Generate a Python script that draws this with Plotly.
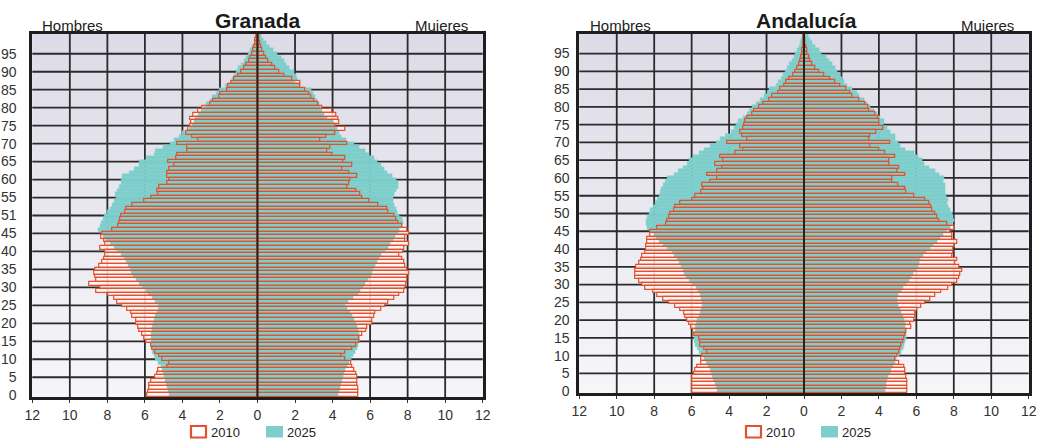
import plotly.graph_objects as go

ages = list(range(101))

# ---------------- Granada ----------------
gr_hombres_2010 = [5.86, 5.82, 5.78, 5.77, 5.68, 5.45, 5.35, 5.30, 4.80, 4.70,
                   5.06, 5.24, 5.42, 5.63, 5.68, 5.90, 6.05, 6.13, 6.30, 6.34,
                   6.48, 6.48, 6.66, 6.75, 6.93, 7.23, 7.46, 7.64, 7.94, 8.60,
                   8.40, 8.97, 8.60, 8.65, 8.70, 8.65, 8.44, 8.26, 8.17, 8.12,
                   8.12, 8.40, 8.12, 8.17, 8.30, 8.26, 7.76, 7.42, 7.35, 7.30,
                   7.28, 7.05, 7.00, 6.66, 6.04, 5.68, 5.28, 5.33, 5.24, 4.80,
                   4.70, 4.80, 4.80, 4.70, 4.44, 4.74, 4.35, 4.26, 3.73, 3.73,
                   4.26, 3.14, 3.50, 3.77, 3.68, 3.60, 3.55, 3.60, 3.41, 3.14,
                   2.93, 2.54, 2.36, 2.04, 2.00, 1.63, 1.55, 1.38, 1.24, 1.00,
                   0.89, 0.71, 0.59, 0.44, 0.36, 0.27, 0.23, 0.18, 0.14, 0.10,
                   0.06]
gr_hombres_2025 = [4.70, 4.74, 4.80, 4.85, 4.90, 4.97, 5.03, 5.08, 5.15, 5.30,
                   5.45, 5.52, 5.60, 5.66, 5.68, 5.68, 5.67, 5.64, 5.62, 5.60,
                   5.56, 5.50, 5.42, 5.33, 5.28, 5.30, 5.42, 5.58, 5.80, 5.95,
                   6.13, 6.28, 6.45, 6.60, 6.70, 6.80, 6.90, 7.00, 7.10, 7.25,
                   7.45, 7.65, 7.85, 8.05, 8.20, 8.35, 8.47, 8.38, 8.30, 8.22,
                   8.15, 8.02, 7.87, 7.72, 7.64, 7.51, 7.58, 7.46, 7.34, 7.28,
                   7.28, 7.23, 6.84, 6.57, 6.30, 6.30, 5.95, 5.50, 5.42, 5.03,
                   4.67, 4.44, 4.17, 4.03, 3.64, 3.46, 3.37, 3.29, 3.14, 3.02,
                   2.84, 2.75, 2.54, 2.40, 2.22, 2.04, 1.69, 1.42, 1.33, 1.24,
                   1.15, 1.00, 0.89, 0.71, 0.59, 0.48, 0.36, 0.28, 0.18, 0.12,
                   0.08]
gr_mujeres_2010 = [5.35, 5.35, 5.35, 5.30, 5.30, 5.30, 5.27, 5.15, 5.05, 5.00,
                   4.70, 4.44, 4.70, 5.06, 5.24, 5.40, 5.45, 5.60, 5.80, 5.83,
                   6.13, 6.13, 6.20, 6.27, 6.57, 6.80, 6.96, 7.28, 7.55, 7.80,
                   7.90, 7.95, 8.00, 8.00, 8.10, 8.00, 7.87, 7.80, 7.72, 7.58,
                   7.75, 7.82, 8.08, 7.90, 7.90, 8.08, 8.00, 7.72, 7.50, 7.40,
                   7.28, 6.98, 6.93, 6.45, 5.95, 5.60, 5.50, 5.24, 4.80, 4.90,
                   4.94, 5.33, 4.90, 4.50, 5.06, 4.56, 4.70, 4.00, 3.70, 3.90,
                   4.80, 3.37, 3.68, 4.17, 4.67, 4.17, 4.35, 4.30, 4.20, 3.96,
                   3.46, 3.25, 3.00, 2.85, 2.75, 2.54, 2.30, 2.30, 1.86, 1.42,
                   1.15, 0.95, 0.80, 0.60, 0.45, 0.35, 0.28, 0.20, 0.15, 0.10,
                   0.07]
gr_mujeres_2025 = [4.30, 4.35, 4.40, 4.44, 4.50, 4.56, 4.62, 4.70, 4.80, 4.90,
                   5.00, 5.12, 5.22, 5.30, 5.35, 5.40, 5.42, 5.40, 5.38, 5.33,
                   5.26, 5.15, 5.05, 4.95, 4.80, 4.67, 4.85, 5.10, 5.35, 5.50,
                   5.62, 5.77, 5.92, 6.05, 6.10, 6.18, 6.30, 6.40, 6.48, 6.62,
                   6.80, 6.95, 7.10, 7.22, 7.35, 7.50, 7.55, 7.72, 7.76, 7.69,
                   7.55, 7.46, 7.37, 7.28, 7.23, 7.25, 7.30, 7.37, 7.50, 7.50,
                   7.40, 7.20, 6.93, 6.75, 6.57, 6.38, 6.20, 5.95, 5.77, 5.45,
                   5.15, 4.75, 4.45, 4.35, 4.25, 4.15, 4.05, 3.70, 3.55, 3.45,
                   3.37, 3.30, 3.20, 3.10, 2.95, 2.84, 2.30, 1.95, 2.13, 2.05,
                   1.95, 1.69, 1.55, 1.42, 1.25, 1.07, 0.85, 0.65, 0.45, 0.30,
                   0.18]

# ---------------- Andalucía ----------------
an_hombres_2010 = [5.96, 5.96, 5.96, 5.96, 5.96, 5.87, 5.78, 5.69, 5.46, 5.46,
                   5.43, 5.16, 5.34, 5.52, 5.55, 5.60, 5.87, 5.93, 6.00, 6.10,
                   6.23, 6.32, 6.41, 6.58, 6.89, 7.20, 7.53, 7.83, 8.06, 8.49,
                   8.63, 8.81, 8.99, 8.99, 8.99, 8.95, 8.81, 8.67, 8.63, 8.49,
                   8.42, 8.42, 8.36, 8.36, 8.19, 8.22, 7.83, 7.38, 7.30, 7.20,
                   7.12, 6.94, 6.85, 6.58, 5.99, 5.78, 5.46, 5.39, 5.43, 4.98,
                   4.63, 5.16, 4.63, 4.36, 4.72, 4.30, 4.45, 3.65, 3.26, 3.40,
                   4.09, 3.02, 3.29, 3.38, 3.26, 3.20, 3.11, 3.02, 2.76, 2.67,
                   2.37, 2.19, 1.87, 1.69, 1.37, 1.25, 1.07, 0.94, 0.77, 0.59,
                   0.44, 0.35, 0.27, 0.20, 0.15, 0.11, 0.08, 0.06, 0.04, 0.03,
                   0.02]
an_hombres_2025 = [4.63, 4.70, 4.76, 4.82, 4.88, 4.95, 5.00, 5.10, 5.20, 5.35,
                   5.45, 5.58, 5.70, 5.78, 5.85, 5.87, 5.85, 5.82, 5.78, 5.74,
                   5.69, 5.60, 5.52, 5.46, 5.43, 5.44, 5.48, 5.52, 5.62, 5.76,
                   5.95, 6.14, 6.28, 6.38, 6.46, 6.55, 6.64, 6.78, 6.92, 7.05,
                   7.28, 7.50, 7.72, 7.88, 8.00, 8.20, 8.35, 8.42, 8.42, 8.36,
                   8.28, 8.19, 8.05, 7.95, 7.82, 7.75, 7.70, 7.62, 7.52, 7.40,
                   7.30, 6.95, 6.70, 6.45, 6.25, 6.10, 5.90, 5.60, 5.30, 5.00,
                   4.70, 4.45, 4.20, 3.90, 3.70, 3.62, 3.50, 3.22, 3.05, 2.90,
                   2.76, 2.55, 2.35, 2.13, 1.95, 1.87, 1.50, 1.35, 1.22, 1.10,
                   0.98, 0.88, 0.78, 0.62, 0.52, 0.44, 0.34, 0.27, 0.20, 0.14,
                   0.10]
an_mujeres_2010 = [5.52, 5.52, 5.52, 5.50, 5.46, 5.43, 5.43, 5.34, 5.07, 4.86,
                   4.98, 5.07, 5.16, 5.21, 5.28, 5.34, 5.39, 5.46, 5.75, 5.69,
                   5.87, 5.93, 5.96, 6.05, 6.28, 6.46, 6.76, 6.99, 7.35, 7.70,
                   7.92, 8.19, 8.27, 8.36, 8.45, 8.27, 8.06, 8.19, 7.92, 7.95,
                   7.95, 8.00, 8.19, 7.92, 7.92, 7.83, 8.01, 7.65, 7.24, 7.12,
                   7.03, 6.85, 6.81, 6.70, 6.49, 5.87, 5.46, 5.43, 5.04, 4.72,
                   4.72, 5.43, 4.98, 5.07, 4.54, 4.54, 4.86, 4.36, 4.04, 3.56,
                   4.63, 3.47, 3.56, 3.86, 4.22, 4.00, 4.00, 3.97, 3.79, 3.50,
                   3.43, 3.26, 2.94, 2.58, 2.49, 2.26, 1.96, 1.69, 1.42, 1.07,
                   0.80, 0.59, 0.44, 0.34, 0.26, 0.20, 0.15, 0.11, 0.08, 0.06,
                   0.04]
an_mujeres_2025 = [4.32, 4.38, 4.42, 4.46, 4.52, 4.60, 4.68, 4.76, 4.85, 4.95,
                   5.08, 5.20, 5.28, 5.35, 5.40, 5.45, 5.46, 5.44, 5.42, 5.39,
                   5.34, 5.28, 5.20, 5.12, 5.02, 4.98, 5.00, 5.06, 5.18, 5.32,
                   5.45, 5.60, 5.74, 5.85, 5.98, 6.08, 6.14, 6.22, 6.35, 6.55,
                   6.75, 6.92, 7.10, 7.28, 7.45, 7.62, 7.80, 7.92, 8.00, 7.97,
                   7.90, 7.82, 7.70, 7.65, 7.70, 7.58, 7.56, 7.54, 7.53, 7.45,
                   7.47, 7.25, 7.03, 6.70, 6.45, 6.32, 6.10, 5.90, 5.40, 5.15,
                   5.05, 4.90, 4.85, 4.60, 4.45, 4.22, 4.30, 4.05, 3.90, 3.74,
                   3.56, 3.40, 3.20, 2.95, 2.85, 2.60, 2.30, 2.15, 2.05, 1.92,
                   1.80, 1.68, 1.50, 1.35, 1.18, 0.95, 0.80, 0.62, 0.45, 0.32,
                   0.22]

series_names = ["2010", "2025"]

x_tickvals = list(range(-12, 13, 2))
x_ticktext = [str(abs(v)) for v in x_tickvals]
y_tickvals = list(range(0, 100, 5))
gr_y_ticktext = ["0", "5", "10", "15", "20", "25", "30", "35", "40", "45",
                 "51", "55", "60", "65", "70", "75", "80", "85", "90", "95"]
an_y_ticktext = [str(v) for v in y_tickvals]

TEAL = "#7dcfcc"
RED = "#e3502d"
GRID = "#2b2b2b"
FONT = "Liberation Sans, Arial, sans-serif"

W, H = 1040, 440
ML, MR, MT, MB = 0, 0, 34, 43
PH = H - MT - MB


def px_x(px):
    return (px - ML) / (W - ML - MR)


def px_y(py):
    return (H - MB - py) / PH


fig = go.Figure()


def add_pyramid(xa, ya, h10, m10, h25, m25):
    yy = ages + ages
    fig.add_trace(go.Bar(
        y=yy, x=[-v for v in h10] + m10, orientation="h", width=1,
        marker=dict(color="rgba(255,246,244,0.85)", line=dict(width=0)),
        showlegend=False, hoverinfo="skip", xaxis=xa, yaxis=ya))
    fig.add_trace(go.Bar(
        y=yy, x=[-v for v in h25] + m25, orientation="h", width=1,
        marker=dict(color=TEAL, line=dict(width=0.4, color=TEAL)),
        name=series_names[1], showlegend=False, xaxis=xa, yaxis=ya))
    fig.add_trace(go.Bar(
        y=yy, x=[-v for v in h10] + m10, orientation="h", width=1,
        marker=dict(color="rgba(0,0,0,0)", line=dict(width=1.2, color=RED)),
        name=series_names[0], showlegend=False, xaxis=xa, yaxis=ya))


add_pyramid("x", "y", gr_hombres_2010, gr_mujeres_2010,
            gr_hombres_2025, gr_mujeres_2025)
add_pyramid("x2", "y2", an_hombres_2010, an_mujeres_2010,
            an_hombres_2025, an_mujeres_2025)

shapes = []
annotations = []
NB = 40
top = (220, 219, 231)
bot = (246, 246, 249)
for xr, yr in (("x", "y"), ("x2", "y2")):
    for i in range(NB):
        t = i / (NB - 1)
        c = tuple(round(bot[k] + (top[k] - bot[k]) * t) for k in range(3))
        shapes.append(dict(type="rect", xref=f"{xr} domain", yref=f"{yr} domain",
                           x0=0, x1=1, y0=i / NB, y1=(i + 1) / NB + 0.002,
                           fillcolor=f"rgb{c}", line=dict(width=0), layer="below"))
    for yv in range(5, 100, 5):
        shapes.append(dict(type="line", xref=f"{xr} domain", yref=yr,
                           x0=0, x1=1, y0=yv, y1=yv,
                           line=dict(color=GRID, width=1.8), layer="below"))
    for xv in range(-10, 11, 2):
        shapes.append(dict(type="line", xref=xr, yref=f"{yr} domain",
                           x0=xv, x1=xv, y0=0, y1=1,
                           line=dict(color=GRID, width=1.8), layer="below"))
    shapes.append(dict(type="line", xref=xr, yref=f"{yr} domain",
                       x0=0, x1=0, y0=0, y1=1,
                       line=dict(color="#222222", width=2), layer="above"))

# manual legends (box + label) under each pyramid
for box10, box25 in ((190, 266), (745, 821)):
    y0, y1 = px_y(437.5), px_y(426)
    shapes.append(dict(type="rect", xref="paper", yref="paper",
                       x0=px_x(box10 + 1), x1=px_x(box10 + 16), y0=y0, y1=y1,
                       fillcolor="white", line=dict(color=RED, width=2.2)))
    shapes.append(dict(type="rect", xref="paper", yref="paper",
                       x0=px_x(box25), x1=px_x(box25 + 17), y0=y0, y1=y1,
                       fillcolor=TEAL, line=dict(width=0)))
    for bx, name in ((box10, series_names[0]), (box25, series_names[1])):
        annotations.append(dict(text=name, x=px_x(bx + 19), y=px_y(432),
                                xref="paper", yref="paper", xanchor="left",
                                yanchor="middle", showarrow=False,
                                font=dict(family=FONT, size=13, color="#222")))

for cx, title, hx, mx in ((258, "Granada", 72, 441), (806, "Andalucía", 620, 987)):
    annotations.append(dict(text=f"<b>{title}</b>", x=px_x(cx), y=px_y(20),
                            xref="paper", yref="paper", xanchor="center",
                            yanchor="middle", showarrow=False,
                            font=dict(family=FONT, size=21, color="#1a1a1a")))
    annotations.append(dict(text="Hombres", x=px_x(hx), y=px_y(25),
                            xref="paper", yref="paper", xanchor="center",
                            yanchor="middle", showarrow=False,
                            font=dict(family=FONT, size=15, color="#222")))
    annotations.append(dict(text="Mujeres", x=px_x(mx), y=px_y(25),
                            xref="paper", yref="paper", xanchor="center",
                            yanchor="middle", showarrow=False,
                            font=dict(family=FONT, size=15, color="#222")))

axis_common = dict(showline=True, linewidth=3, linecolor="#1e1e1e", mirror=True,
                   showgrid=False, zeroline=False, automargin=False,
                   tickfont=dict(family=FONT, size=14, color="#333333"))

fig.update_layout(
    width=W, height=H,
    margin=dict(l=ML, r=MR, t=MT, b=MB),
    paper_bgcolor="white", plot_bgcolor="#ecebf1",
    barmode="overlay", bargap=0, showlegend=False,
    font=dict(family=FONT, color="#222222"),
    shapes=shapes, annotations=annotations,
    xaxis=dict(domain=[px_x(32.3), px_x(482.7)], range=[-12, 12], tickvals=x_tickvals,
               ticktext=x_ticktext, ticks="outside", ticklen=3, tickcolor="#333",
               anchor="y", **axis_common),
    yaxis=dict(domain=[0, 1], range=[-0.5, 100.5], tickvals=y_tickvals,
               ticktext=gr_y_ticktext, ticks="", anchor="x",
               ticklabelstandoff=10, **axis_common),
    xaxis2=dict(domain=[px_x(579.3), px_x(1028.7)], range=[-12, 12], tickvals=x_tickvals,
                ticktext=x_ticktext, ticks="outside", ticklen=3, tickcolor="#333",
                anchor="y2", **axis_common),
    yaxis2=dict(domain=[px_y(393), 1], range=[-0.5, 100.5], tickvals=y_tickvals,
                ticktext=an_y_ticktext, ticks="", anchor="x2",
                ticklabelstandoff=4, **axis_common),
)

fig.write_html("out.html",
               config={"displayModeBar": False},
               post_script="document.body.style.margin='0';"
                           "document.body.style.padding='0';"
                           "document.documentElement.style.margin='0';")
